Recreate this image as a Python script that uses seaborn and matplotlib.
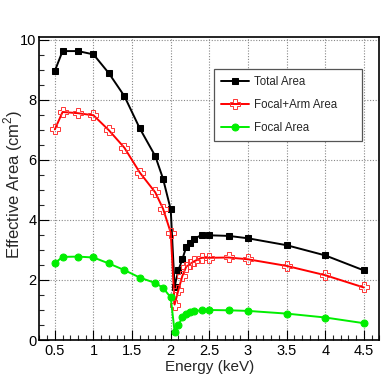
import numpy as np
import pandas as pd
import matplotlib
matplotlib.use("Agg")
import matplotlib.pyplot as plt
from matplotlib.ticker import MultipleLocator, FuncFormatter
import seaborn as sns

energy = [0.5, 0.6, 0.8, 1.0, 1.2, 1.4, 1.6, 1.8, 1.9, 2.0, 2.05, 2.1, 2.15,
          2.2, 2.25, 2.3, 2.4, 2.5, 2.75, 3.0, 3.5, 4.0, 4.5]
total_area = [8.97, 9.63, 9.63, 9.52, 8.89, 8.13, 7.05, 6.13, 5.38, 4.35, 1.78,
              2.33, 2.69, 3.09, 3.24, 3.37, 3.50, 3.49, 3.47, 3.39, 3.16, 2.82, 2.32]
focal_arm_area = [7.02, 7.60, 7.56, 7.49, 6.99, 6.41, 5.58, 4.92, 4.38, 3.58, 1.18,
                  1.67, 2.13, 2.44, 2.53, 2.62, 2.74, 2.74, 2.75, 2.69, 2.47, 2.16, 1.75]
focal_area = [2.56, 2.77, 2.78, 2.75, 2.55, 2.33, 2.08, 1.90, 1.74, 1.42, 0.28,
              0.50, 0.76, 0.87, 0.92, 0.95, 1.00, 1.00, 0.99, 0.97, 0.88, 0.75, 0.56]
series_names = ["Total Area", "Focal+Arm Area", "Focal Area"]

sns.set_style("white")
plt.rcParams['font.family'] = ['Liberation Sans', 'DejaVu Sans']
plt.rcParams['mathtext.fontset'] = 'custom'
plt.rcParams['mathtext.rm'] = 'Liberation Sans'

fig = plt.figure(figsize=(3.9, 3.79), dpi=100)
ax = fig.add_axes([0.101, 0.1029, 0.8716, 0.7995])

df = pd.DataFrame({"energy": energy, "total": total_area,
                   "focalarm": focal_arm_area, "focal": focal_area})

sns.lineplot(data=df, x="energy", y="total", ax=ax, color="black", lw=1.4,
             marker="s", markersize=5, markeredgecolor="black",
             markerfacecolor="black", label=series_names[0], zorder=3)
sns.lineplot(data=df, x="energy", y="focalarm", ax=ax, color="#ff0000", lw=1.4,
             marker="P", markersize=6.5, markeredgecolor="#ff3333",
             markerfacecolor="none", markeredgewidth=0.7,
             label=series_names[1], zorder=3)
sns.lineplot(data=df, x="energy", y="focal", ax=ax, color="#00ee00", lw=1.4,
             marker="o", markersize=5, markeredgecolor="#00ee00",
             markerfacecolor="#00ee00", label=series_names[2], zorder=3)

ax.set_xlim(0.3, 4.7)
ax.set_ylim(0, 10.1)
ax.xaxis.set_major_locator(MultipleLocator(0.5))
ax.xaxis.set_minor_locator(MultipleLocator(0.1))
ax.yaxis.set_major_locator(MultipleLocator(2))
ax.yaxis.set_minor_locator(MultipleLocator(0.5))
ax.xaxis.set_major_formatter(FuncFormatter(lambda v, p: "%g" % round(v, 2)))
ax.yaxis.set_major_formatter(FuncFormatter(lambda v, p: "%g" % round(v, 2)))

ax.tick_params(which="major", direction="in", length=7, width=0.8,
               labelsize=10.5, pad=2, colors="black",
               bottom=True, left=True, top=False, right=False)
ax.tick_params(which="minor", direction="in", length=3.5, width=0.8,
               bottom=True, left=True, top=False, right=False)
ax.tick_params(axis="x", which="major", pad=3)

ax.grid(True, which="major", linestyle=(0, (1, 1.5)), color="#888888", lw=0.8)
for s in ax.spines.values():
    s.set_visible(True)
    s.set_color("black")
    s.set_linewidth(1.2)

ax.set_xlabel("Energy (keV)", fontsize=11, labelpad=1)
ax.set_ylabel("Effective Area (cm$^2$)", fontsize=12)
ax.yaxis.set_label_coords(-0.043, 0.515)

leg = ax.legend(loc="upper left", bbox_to_anchor=(0.514, 0.894, 0.435, 0.0),
                mode="expand", fontsize=8.3, frameon=True, fancybox=False,
                edgecolor="#555555", borderpad=0.6, labelspacing=0.95,
                handlelength=2.4, handletextpad=0.5, borderaxespad=0)
leg.get_frame().set_linewidth(0.9)
leg.get_frame().set_alpha(1)

fig.savefig("out.png", dpi=100)
